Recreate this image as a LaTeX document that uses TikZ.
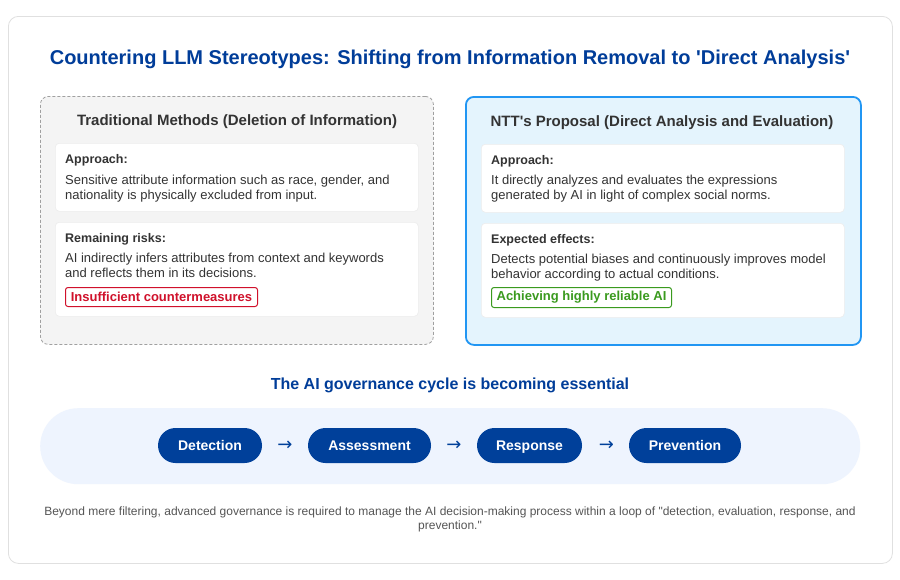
\documentclass[tikz,border=0pt]{standalone}
\usepackage{fontspec}
\setmainfont{Liberation Sans}[Ligatures=TeXOff]
\newfontfamily\arrowfont{DejaVu Sans}
\definecolor{titleblue}{HTML}{003D99}
\definecolor{pillblue}{HTML}{00409A}
\definecolor{darktext}{HTML}{333333}
\definecolor{bodytext}{HTML}{333333}
\definecolor{leftfill}{HTML}{F4F4F4}
\definecolor{leftborder}{HTML}{A0A0A0}
\definecolor{rightfill}{HTML}{E4F4FD}
\definecolor{rightborder}{HTML}{2196F3}
\definecolor{cyclefill}{HTML}{EEF4FE}
\definecolor{badred}{HTML}{D0112B}
\definecolor{goodgreen}{HTML}{3A9A1E}
\definecolor{foottext}{HTML}{555555}
\definecolor{cardborder}{HTML}{E0E0E0}
\tikzset{
  px/.style={x=1pt,y=-1pt},
  card/.style={draw=black!7,line width=0.6pt,fill=white,rounded corners=4pt,anchor=north west,inner sep=0pt},
  lbl/.style={anchor=base west,inner sep=0pt,font=\fontsize{12.5}{15}\selectfont\bfseries,text=darktext},
  body/.style={anchor=base west,inner sep=0pt,align=left,font=\fontsize{13}{15}\selectfont,text=bodytext},
  badge/.style={anchor=north west,draw,line width=1pt,rounded corners=2.5pt,inner sep=0pt,
    font=\fontsize{13}{15}\selectfont\bfseries},
  heading/.style={anchor=base,inner sep=0pt,font=\fontsize{15}{18}\selectfont\bfseries,text=darktext},
  pill/.style={fill=pillblue,text=white,rounded corners=17.5pt,minimum height=35pt,inner sep=0pt,
    text height=10pt,text depth=0pt,font=\fontsize{14}{16}\selectfont\bfseries},
  arr/.style={text=pillblue,inner sep=0pt,font=\arrowfont\fontsize{18}{18}\selectfont},
}
\begin{document}
\begin{tikzpicture}[px]
\useasboundingbox (0,0) rectangle (900,579);
\fill[white] (0,0) rectangle (900,579);
% outer card
\node[draw=cardborder,line width=0.8pt,fill=white,rounded corners=10pt,anchor=north west,
  minimum width=884pt,minimum height=547pt,inner sep=0pt] (outer) at (8,16) {};
\node[anchor=base,inner sep=0pt,font=\fontsize{20}{22}\selectfont\bfseries,text=titleblue] (title) at (450,64)
  {Countering LLM Stereotypes: Shifting from Information Removal to 'Direct Analysis'};

% left panel
\node[draw=leftborder,dashed,dash pattern=on 3pt off 2pt,line width=0.8pt,fill=leftfill,rounded corners=8pt,
  anchor=north west,minimum width=393pt,minimum height=248pt,inner sep=0pt] (left) at (40,96) {};
\node[heading] (lhead) at (237,125.5) {Traditional Methods (Deletion of Information)};
\node[card,minimum width=363pt,minimum height=68pt] (lc1) at (55,143) {};
\node[lbl] (lc1l) at (65,163.5) {Approach:};
\node[body] (lc1t) at (65,199.5) {Sensitive attribute information such as race, gender, and\\nationality is physically excluded from input.};
\node[card,minimum width=363pt,minimum height=94pt] (lc2) at (55,222) {};
\node[lbl] (lc2l) at (65,242.5) {Remaining risks:};
\node[body] (lc2t) at (65,277.5) {AI indirectly infers attributes from context and keywords\\and reflects them in its decisions.};
\node[badge,draw=badred,text=badred,minimum width=192pt,minimum height=19pt] (lbadge) at (65,287) {Insufficient countermeasures};

% right panel
\node[draw=rightborder,line width=1.8pt,fill=rightfill,rounded corners=8pt,
  anchor=north west,minimum width=395pt,minimum height=248pt,inner sep=0pt] (right) at (465,96) {};
\node[heading] (rhead) at (662,126.5) {NTT's Proposal (Direct Analysis and Evaluation)};
\node[card,minimum width=363pt,minimum height=68pt] (rc1) at (481,144) {};
\node[lbl] (rc1l) at (491,164.5) {Approach:};
\node[body] (rc1t) at (491,199.5) {It directly analyzes and evaluates the expressions\\generated by AI in light of complex social norms.};
\node[card,minimum width=363pt,minimum height=94pt] (rc2) at (481,223) {};
\node[lbl] (rc2l) at (491,243.5) {Expected effects:};
\node[body] (rc2t) at (491,278.5) {Detects potential biases and continuously improves model\\behavior according to actual conditions.};
\node[badge,draw=goodgreen,text=goodgreen,minimum width=180pt,minimum height=20pt] (rbadge) at (491,287) {Achieving highly reliable AI};

% governance cycle
\node[anchor=base,inner sep=0pt,font=\fontsize{16}{19}\selectfont\bfseries,text=titleblue] (cyclehead) at (450,389)
  {The AI governance cycle is becoming essential};
\node[fill=cyclefill,rounded corners=38pt,anchor=north west,minimum width=820pt,minimum height=76pt,inner sep=0pt] (cycle) at (40,408) {};
\node[pill,minimum width=104pt] (det) at (210,445.5) {Detection};
\node[pill,minimum width=123pt] (ass) at (369.5,445.5) {Assessment};
\node[pill,minimum width=105pt] (res) at (529.5,445.5) {Response};
\node[pill,minimum width=112pt] (pre) at (685,445.5) {Prevention};
\node[arr] (a1) at (285,446) {→};
\node[arr] (a2) at (454,446) {→};
\node[arr] (a3) at (606.5,446) {→};

% footer
\node[inner sep=0pt,align=center,font=\fontsize{12}{14}\selectfont,text=foottext,anchor=base] (foot) at (450,529)
  {Beyond mere filtering, advanced governance is required to manage the AI decision-making process within a loop of "detection, evaluation, response, and\\prevention."};
\end{tikzpicture}
\end{document}
